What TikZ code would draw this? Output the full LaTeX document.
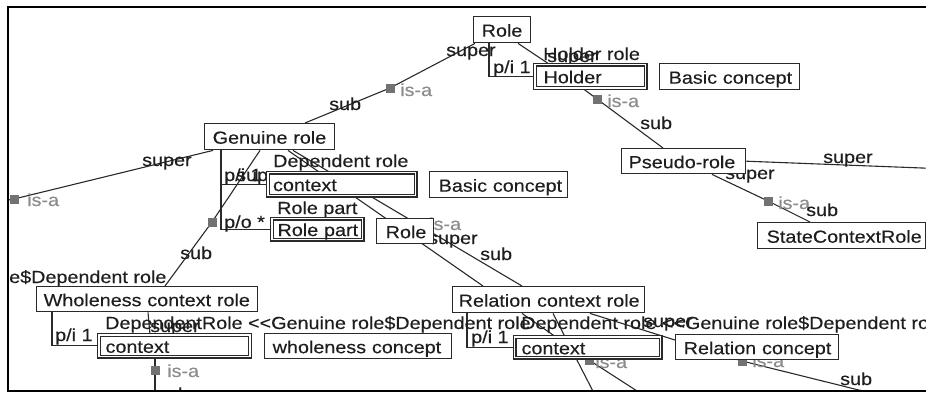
\documentclass[tikz,border=0pt]{standalone}
\usepackage{fontspec}
\setmainfont[FakeStretch=1.13,FakeBold=0.3]{Liberation Sans}
\usetikzlibrary{calc}
\definecolor{ink}{HTML}{1E1E1E}
\definecolor{edge}{HTML}{2A2A2A}
\definecolor{isagrey}{HTML}{8C8C8C}
\definecolor{markgrey}{HTML}{727272}
\newcommand\lblfont{\fontsize{17.5}{20}\selectfont}
\pgfdeclarelayer{links}
\pgfdeclarelayer{labels}
\pgfsetlayers{links,labels,main}
% box from (x1,y1) to (x2,y2), text indented by a left pad
\newcommand\mkbox[8]{%
  \pgfmathsetmacro\bw{#5-#3}%
  \pgfmathsetmacro\bh{#6-#4}%
  \pgfmathsetmacro\tw{#5-#3-2*#7}%
  \node[#1, minimum width=\bw pt, minimum height=\bh pt, text width=\tw pt] (#2) at (#3,#4) {\mbox{#8}};}
\begin{document}
\begin{tikzpicture}[x=1pt,y=-1pt,
  box/.style={draw=edge,line width=1.4pt,fill=white,inner xsep=0pt,inner ysep=0pt,
    text height=15pt,text depth=1pt,align=left,font=\lblfont,text=ink,anchor=north west},
  dbox/.style={box,line width=1.1pt,double=white,double distance=1.8pt},
  link/.style={draw=edge,line width=1.1pt},
  marker/.style={fill=markgrey,minimum size=9pt,inner sep=0pt},
  lbl/.style={font=\lblfont,text=ink,anchor=base west,inner sep=0pt},
  isa/.style={lbl,text=isagrey}]
\useasboundingbox (0,0) rectangle (926,394);

% concept boxes
\begin{scope}
\clip (8,7) rectangle (926,391);
\mkbox{box}{role}{473}{16}{530}{42}{8}{Role}
\mkbox{dbox}{holder}{534.5}{64}{645}{87.5}{8.5}{Holder}
\mkbox{box}{basicA}{659}{63}{799}{89}{9}{Basic concept}
\mkbox{box}{genuine}{204}{123}{334}{149}{8}{Genuine role}
\mkbox{dbox}{ctxA}{267.5}{172}{415}{195}{5}{context}
\mkbox{box}{basicB}{429}{171}{567}{197}{9}{Basic concept}
\mkbox{dbox}{rolepart}{271.5}{218}{362}{239}{5.5}{Role part}
\mkbox{box}{rolesm}{376}{218}{433}{243}{9}{Role}
\mkbox{box}{pseudo}{621}{148}{745}{173}{7}{Pseudo-role}
\mkbox{box}{state}{757}{222}{925}{248}{9}{StateContextRole}
\mkbox{box}{whole}{36}{286}{257}{311}{7}{Wholeness context role}
\mkbox{dbox}{ctxB}{98.5}{334.5}{249.5}{356}{6.5}{context}
\mkbox{box}{wconc}{264}{333}{451}{358}{8}{wholeness concept}
\mkbox{box}{relctx}{452}{286}{644}{312}{6}{Relation context role}
\mkbox{dbox}{ctxC}{514}{336.5}{660}{357}{7}{context}
\mkbox{box}{relcon}{675}{334}{838}{359}{8}{Relation concept}
\end{scope}

% is-a markers and open ends
\coordinate (k1) at (390,88);
\coordinate (k2) at (597,99);
\coordinate (k3) at (14,199);
\coordinate (k4) at (212,222);
\coordinate (k5) at (155,370);
\coordinate (k6) at (768,201);
\coordinate (k7) at (589,360);
\coordinate (k8) at (742,361);
\coordinate (westend) at (0,201.5);
\coordinate (eastend) at (935,168.5);
\coordinate (southA) at (155,400);
\coordinate (southB) at (651,400);
\coordinate (southC) at (597.5,400);
\coordinate (southD) at (899,400);

\begin{pgfonlayer}{links}
\clip (8,7) rectangle (926,391);
\draw[link] ([xshift=2pt]role.south west) -- (k1) -- ([xshift=101pt]genuine.north west);
\draw[link] ([xshift=45pt]role.south west) -- ([xshift=14.5pt]holder.north west);
\coordinate (rp) at ([xshift=16pt]role.south west);
\draw[link] (rp) |- (holder.west);
\draw[link] ([xshift=48.5pt]holder.south west) -- (k2) -- ([xshift=42pt]pseudo.north west);
\draw[link] (pseudo.east) -- (eastend);
\draw[link] ([xshift=91pt]pseudo.south west) -- (k6) -- ([xshift=53pt]state.north west);
\draw[link] ([xshift=9pt]genuine.south west) -- (k3) -- (westend);
\coordinate (gp) at ([xshift=17pt]genuine.south west);
\draw[link] (gp) |- (rolepart.west);
\draw[link] (gp |- ctxA.west) -- (ctxA.west);
\draw[link] ([xshift=56pt]genuine.south west) -- (k4) -- ([xshift=129pt]whole.north west);
\draw[link] ([xshift=84pt]genuine.south west) -- ([xshift=31pt]relctx.north west);
\draw[link] ([xshift=89pt]genuine.south west) -- ([xshift=70pt]relctx.north west);
\draw[link] ([xshift=112pt]whole.south west) -- ([xshift=51.5pt]ctxB.north west);
\coordinate (wp) at ([xshift=16pt]whole.south west);
\draw[link] (wp) |- (ctxB.west);
\draw[link] ([xshift=56.5pt]ctxB.south west) -- (k5) -- (southA);
\coordinate (rcp) at ([xshift=15pt]relctx.south west);
\draw[link] (rcp) |- (ctxC.west);
\draw[link] ([xshift=70pt]relctx.south west) -- (k7) -- (southB);
\draw[link] ([xshift=101pt]relctx.south west) -- (southC);
\draw[link] ([xshift=138pt]relctx.south west) -- (k8) -- (southD);
\foreach \k in {k1,k2,k3,k4,k5,k6,k7,k8}
  \node[marker] (\k sq) at (\k) {};
\end{pgfonlayer}

% role names on the links
\begin{pgfonlayer}{labels}
\clip (8,7) rectangle (926,391);
\node[lbl] (t1) at (446,56) {super};
\node[lbl] (t2) at (329,110) {sub};
\node[isa] (t3) at (400,96) {is-a};
\node[lbl] (t4) at (543,60) {Holder role};
\node[lbl] (t5) at (547,62) {super};
\node[lbl] (t6) at (493,73) {p/i 1};
\node[isa] (t7) at (607,107) {is-a};
\node[lbl] (t8) at (640,129) {sub};
\node[lbl] (t9) at (823,163) {super};
\node[lbl] (t10) at (725,179) {super};
\node[isa] (t11) at (778,209) {is-a};
\node[lbl] (t12) at (806,216) {sub};
\node[lbl] (t13) at (142,166) {super};
\node[isa] (t14) at (27,206) {is-a};
\node[lbl] (t15) at (273,167) {Dependent role};
\node[lbl] (t16) at (224,181) {p/i 1};
\node[lbl] (t17) at (236,181) {super};
\node[lbl] (t18) at (277,214) {Role part};
\node[lbl] (t19) at (224,228) {p/o *};
\node[lbl] (t20) at (180,259) {sub};
\node[isa] (t21) at (429,230) {is-a};
\node[lbl] (t22) at (428,244) {super};
\node[lbl] (t23) at (480,260) {sub};
\node[lbl] (t24) at (9,283) {e\$Dependent role};
\node[lbl] (t25) at (105,329) {DependentRole <{}<Genuine role\$Dependent role};
\node[lbl] (t26) at (150,332) {super};
\node[lbl] (t27) at (55,341) {p/i 1};
\node[isa] (t28) at (167,377) {is-a};
\node[lbl] (t29) at (157,400) {sub};
\node[lbl] (t30) at (471,343) {p/i 1};
\node[lbl] (t31) at (521,329) {Dependent role <{}<Genuine role\$Dependent role};
\node[lbl] (t32) at (643,327) {super};
\node[isa] (t33) at (595,368) {is-a};
\node[isa] (t34) at (752,367) {is-a};
\node[lbl] (t35) at (840,385) {sub};
\end{pgfonlayer}

% window frame
\draw[line width=2pt,black] (926,7) -- (8,7) -- (8,391) -- (926,391);
\end{tikzpicture}
\end{document}
